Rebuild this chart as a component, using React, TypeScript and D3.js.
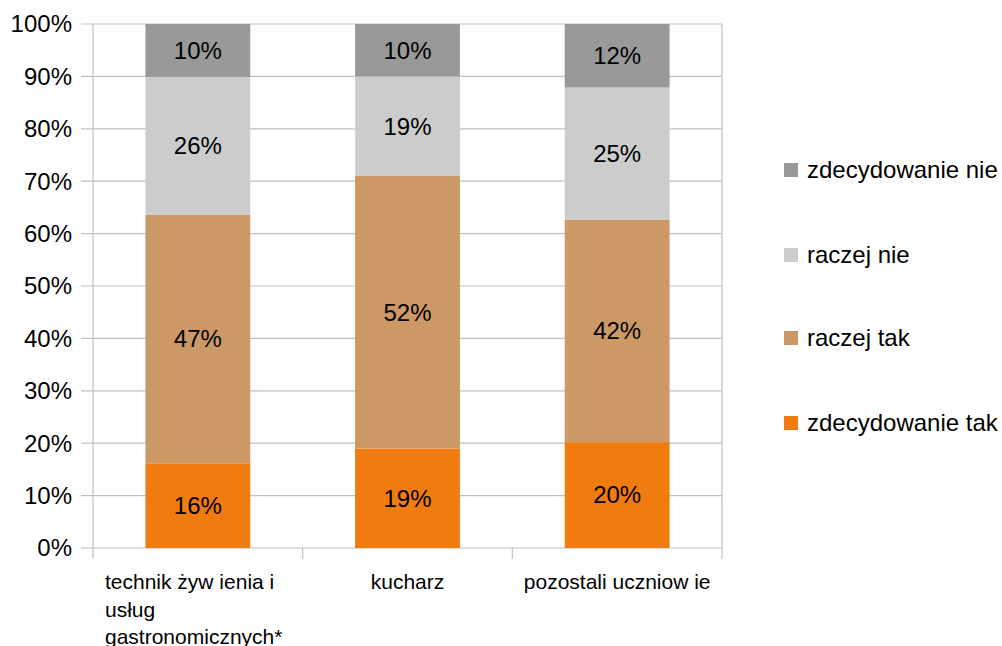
import React from "react";
import * as d3 from "d3";

const categories = ["technik żyw ienia i usług gastronomicznych*", "kucharz", "pozostali uczniow ie"];
const categoryLines = [["technik żyw ienia i", "usług", "gastronomicznych*"], ["kucharz"], ["pozostali uczniow ie"]];
const seriesNames = ["zdecydowanie tak", "raczej tak", "raczej nie", "zdecydowanie nie"];
const seriesColors = ["#f07b0e", "#cc9966", "#cccccc", "#999999"];
const zdecydowanieTak = [16, 19, 20];
const raczejTak = [47, 52, 42];
const raczejNie = [26, 19, 25];
const zdecydowanieNie = [10, 10, 12];
const yTicks = [0, 0.1, 0.2, 0.3, 0.4, 0.5, 0.6, 0.7, 0.8, 0.9, 1];

const W = 1002;
const H = 646;
const plot = { left: 93, right: 722, top: 24, bottom: 548 };
const FONT = "Liberation Sans, Arial, sans-serif";

export default function App() {
  const rows = categories.map((c, i) => ({
    cat: c,
    "zdecydowanie tak": zdecydowanieTak[i],
    "raczej tak": raczejTak[i],
    "raczej nie": raczejNie[i],
    "zdecydowanie nie": zdecydowanieNie[i],
  }));
  const stacked = d3.stack<any>().keys(seriesNames).offset(d3.stackOffsetExpand)(rows);

  const x = d3.scaleBand().domain(categories).range([plot.left, plot.right]).paddingInner(0.5).paddingOuter(0.25);
  const y = d3.scaleLinear().domain([0, 1]).range([plot.bottom, plot.top]);
  const step = x.step();
  const fmt = d3.format(".0%");

  const legendY = [423, 338, 255, 170];

  return (
    <svg width={W} height={H} style={{ position: "absolute", left: 0, top: 0, background: "#fff" }} fontFamily={FONT}>
      {/* horizontal gridlines */}
      {yTicks.map((t) => (
        <line key={t} x1={plot.left - 12} x2={plot.right} y1={y(t)} y2={y(t)} stroke="#c0c0c0" strokeWidth={1.2} />
      ))}
      {/* axis and frame verticals */}
      <line x1={plot.left} x2={plot.left} y1={plot.top} y2={plot.bottom + 11} stroke="#c0c0c0" strokeWidth={1.2} />
      <line x1={plot.right} x2={plot.right} y1={plot.top} y2={plot.bottom + 11} stroke="#c0c0c0" strokeWidth={1.2} />
      {categories.slice(1).map((c) => {
        const xb = (x(c) as number) - step * 0.25;
        return <line key={c} x1={xb} x2={xb} y1={plot.bottom} y2={plot.bottom + 11} stroke="#c0c0c0" strokeWidth={1.2} />;
      })}
      {/* y tick labels */}
      {yTicks.map((t) => (
        <text key={t} x={72} y={y(t)} dy="0.35em" textAnchor="end" fontSize={24} fill="#000">
          {fmt(t)}
        </text>
      ))}
      {/* bars */}
      {stacked.map((s, si) => (
        <g key={s.key}>
          {s.map((d, i) => (
            <rect
              key={i}
              x={x(categories[i])}
              width={x.bandwidth()}
              y={y(d[1])}
              height={y(d[0]) - y(d[1])}
              fill={seriesColors[si]}
            />
          ))}
          {s.map((d, i) => (
            <text
              key={"t" + i}
              x={(x(categories[i]) as number) + x.bandwidth() / 2}
              y={(y(d[0]) + y(d[1])) / 2}
              dy="0.35em"
              textAnchor="middle"
              fontSize={24}
              fill="#000"
            >
              {(d.data as any)[s.key]}%
            </text>
          ))}
        </g>
      ))}
      {/* category labels */}
      {categories.map((c, i) => {
        const lines = categoryLines[i];
        const cx = (x(c) as number) + x.bandwidth() / 2;
        if (lines.length > 1) {
          return (
            <text key={c} fontSize={21} fill="#000">
              {lines.map((l, li) => (
                <tspan key={li} x={105} y={582 + li * 27.5} dy="0.35em">
                  {l}
                </tspan>
              ))}
            </text>
          );
        }
        return (
          <text key={c} x={cx} y={582} dy="0.35em" textAnchor="middle" fontSize={21} fill="#000">
            {lines[0]}
          </text>
        );
      })}
      {/* legend */}
      {seriesNames.map((n, i) => (
        <g key={n}>
          <rect x={784} y={legendY[i] - 7} width={14} height={14} fill={seriesColors[i]} />
          <text x={807} y={legendY[i]} dy="0.35em" fontSize={24} fill="#000">
            {n}
          </text>
        </g>
      ))}
    </svg>
  );
}
